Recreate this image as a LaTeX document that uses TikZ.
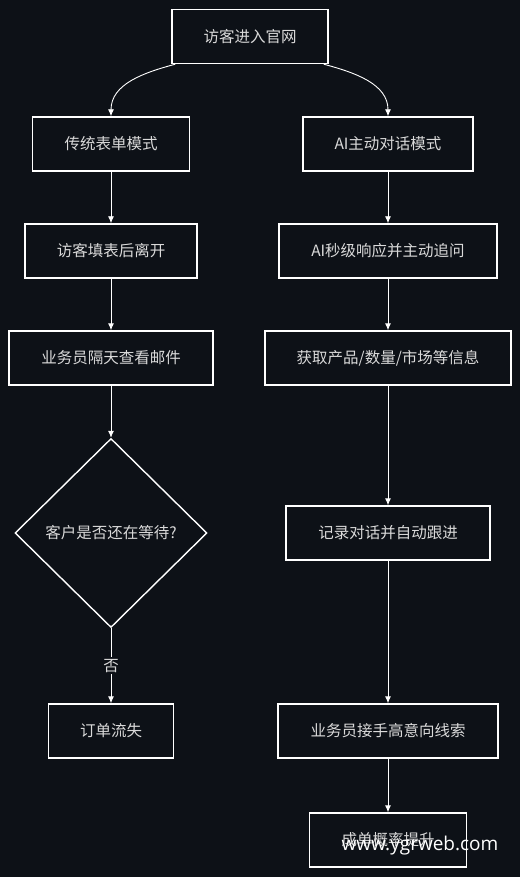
\documentclass[tikz,border=0pt]{standalone}
\usepackage{fontspec}
\setmainfont{Noto Sans CJK SC}
\newfontfamily\wmfont{Open Sans}
\usetikzlibrary{shapes.geometric,arrows.meta}
\definecolor{bg}{HTML}{0D1117}
\definecolor{txt}{HTML}{DADADA}

\begin{document}
\begin{tikzpicture}[x=1pt, y=-1pt,
    every node/.style={rectangle, draw=white, line width=1.4pt, fill=bg, text=txt,
        font=\fontsize{15.5}{18}\selectfont, minimum height=54pt},
    flow/.style={draw=white, line width=0.9pt, -{Latex[length=7pt,width=6pt]}},
    lbl/.style={draw=none, fill=bg, minimum height=0pt, inner sep=2pt}]
    \fill[bg] (0,0) rectangle (520,877);
    \useasboundingbox (0,0) rectangle (520,877);

    \node[minimum width=156pt] (start) at (250, 36.5) {访客进入官网};
    \node[minimum width=157pt] (trad) at (111, 144) {传统表单模式};
    \node[minimum width=170pt] (ai) at (388, 144) {AI主动对话模式};
    \node[minimum width=172pt] (leave) at (111, 251) {访客填表后离开};
    \node[minimum width=218pt] (reply) at (388, 251) {AI秒级响应并主动追问};
    \node[minimum width=204pt] (mail) at (111, 358) {业务员隔天查看邮件};
    \node[minimum width=246pt] (info) at (388, 358) {获取产品/数量/市场等信息};
    \node[diamond, aspect=1, inner sep=0pt, minimum width=192pt, minimum height=189pt] (wait) at (111, 533) {客户是否还在等待?};
    \node[minimum width=204pt] (record) at (388, 533) {记录对话并自动跟进};
    \node[minimum width=125pt] (lost) at (111, 731) {订单流失};
    \node[minimum width=220pt] (lead) at (388, 731) {业务员接手高意向线索};
    \node[minimum width=157pt] (win) at (388, 840) {成单概率提升};

    \draw[flow] ([xshift=4pt]start.south west) to[out=195, in=90] (trad.north);
    \draw[flow] ([xshift=-5pt]start.south east) to[out=-15, in=90] (ai.north);
    \draw[flow] (trad) -- (leave);
    \draw[flow] (leave) -- (mail);
    \draw[flow] (mail) -- (wait);
    \draw[flow] (wait) -- node[lbl] (no) {否} (lost);
    \draw[flow] (ai) -- (reply);
    \draw[flow] (reply) -- (info);
    \draw[flow] (info) -- (record);
    \draw[flow] (record) -- (lead);
    \draw[flow] (lead) -- (win);

    \node[draw=none, fill=none, minimum height=0pt, text=white,
        font=\wmfont\fontsize{19}{22}\selectfont] (mark) at (420, 846) {www.ygrweb.com};
\end{tikzpicture}
\end{document}
